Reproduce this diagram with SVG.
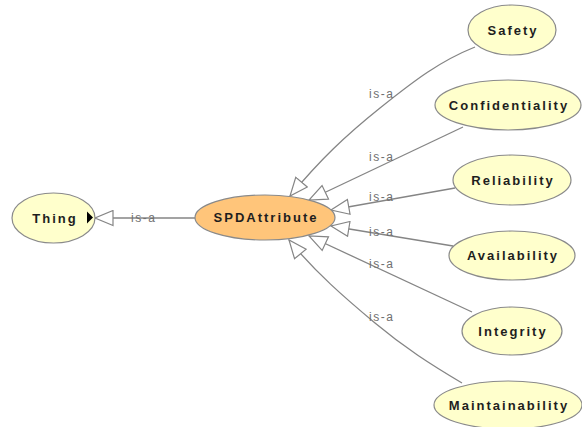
<svg xmlns="http://www.w3.org/2000/svg" width="582" height="427" viewBox="0 0 582 427">
  <style>
    .node ellipse { stroke: #8a8a8a; stroke-width: 1.2; }
    .cls ellipse { fill: #FFFFCC; }
    .focus ellipse { fill: #FFC57A; }
    .node text { font-family: "Liberation Sans", Arial, sans-serif; font-size: 13px; font-weight: bold; fill: #1e1e1e; letter-spacing: 2px; text-anchor: middle; }
    .edge { fill: none; stroke: #858585; stroke-width: 1.3; marker-end: url(#isa); }
    .lbl { font-family: "Liberation Sans", Arial, sans-serif; font-size: 12px; fill: #707070; letter-spacing: 1.5px; }
  </style>
  <defs>
    <!-- hollow triangle used for subclass (is-a) links -->
    <marker id="isa" markerUnits="userSpaceOnUse" viewBox="-1 -1 20 17" markerWidth="20" markerHeight="17" refX="18" refY="7.5" orient="auto">
      <path d="M0,0 L18,7.5 L0,15 Z" fill="#ffffff" stroke="#858585" stroke-width="1.2"/>
    </marker>
  </defs>

  <!-- is-a connectors -->
  <g id="connectors">
    <path class="edge" d="M195,218 L95,218"/>
    <path class="edge" d="M475,47 C440,61 415,80 380,108 C345,136 320,160 290,196"/>
    <path class="edge" d="M463,127 L309,200"/>
    <path class="edge" d="M455,188 L331,210"/>
    <path class="edge" d="M453,246 L331,226"/>
    <path class="edge" d="M472,312 L309,236"/>
    <path class="edge" d="M462,383 C430,364 405,348 375,323 C345,298 315,272 289,240"/>
    <text class="lbl" x="131" y="222">is-a</text>
    <text class="lbl" x="369" y="98">is-a</text>
    <text class="lbl" x="369" y="161">is-a</text>
    <text class="lbl" x="369" y="201">is-a</text>
    <text class="lbl" x="369" y="236">is-a</text>
    <text class="lbl" x="369" y="268">is-a</text>
    <text class="lbl" x="369" y="321">is-a</text>
  </g>

  <g id="Thing" class="node cls">
    <ellipse cx="53.5" cy="218" rx="41.5" ry="25"/>
    <text x="55" y="222.5">Thing</text>
    <path d="M87,211.5 L93,217.5 L87,223.5 Z" fill="#000000"/>
  </g>
  <g id="SPDAttribute" class="node focus">
    <ellipse cx="265" cy="217.5" rx="70" ry="22.5"/>
    <text x="266" y="222">SPDAttribute</text>
  </g>
  <g id="Safety" class="node cls">
    <ellipse cx="512" cy="30" rx="44" ry="25"/>
    <text x="513" y="34.5">Safety</text>
  </g>
  <g id="Confidentiality" class="node cls">
    <ellipse cx="508" cy="105" rx="73" ry="25"/>
    <text x="509" y="109.5">Confidentiality</text>
  </g>
  <g id="Reliability" class="node cls">
    <ellipse cx="512" cy="180" rx="59" ry="25"/>
    <text x="513" y="184.5">Reliability</text>
  </g>
  <g id="Availability" class="node cls">
    <ellipse cx="512" cy="255.5" rx="63" ry="24.5"/>
    <text x="513" y="260">Availability</text>
  </g>
  <g id="Integrity" class="node cls">
    <ellipse cx="512" cy="331" rx="50" ry="24"/>
    <text x="513" y="335.5">Integrity</text>
  </g>
  <g id="Maintainability" class="node cls">
    <ellipse cx="508" cy="405" rx="74" ry="24"/>
    <text x="509" y="409.5">Maintainability</text>
  </g>
</svg>
